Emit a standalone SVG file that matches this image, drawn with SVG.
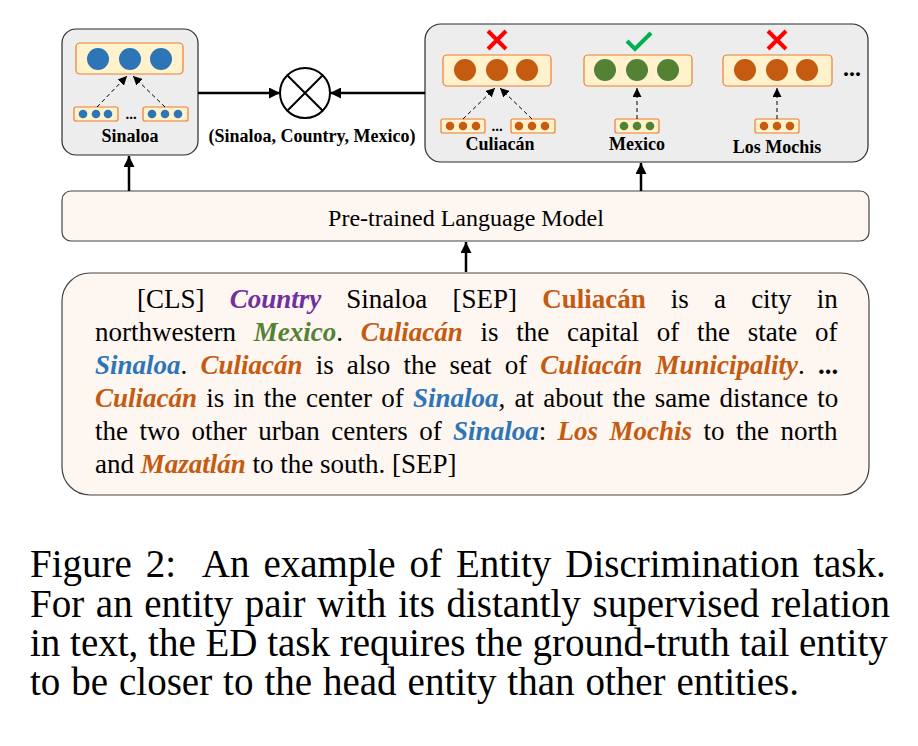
<svg xmlns="http://www.w3.org/2000/svg" width="918" height="746" viewBox="0 0 918 746">
<style>
.t{font-family:"Liberation Serif","Times New Roman",serif;font-size:27px;fill:#000}
.c{font-family:"Liberation Serif","Times New Roman",serif;font-size:39px;fill:#000}
.lbl{font-family:"Liberation Serif","Times New Roman",serif;font-size:18px;font-weight:bold;fill:#000;text-anchor:middle}
.bi{font-weight:bold;font-style:italic}
.b{font-weight:bold}
.org{fill:#C55A11}.blu{fill:#2E75B6}.grn{fill:#548235}.pur{fill:#7030A0}
.panel{fill:#EDEDED;stroke:#2b2b2b;stroke-width:1.2}
.soft{fill:#FDF6F1;stroke:#444;stroke-width:1.2}
.bar{fill:#FFF2CC;stroke:#ED7D31;stroke-width:1.2}
.solid{stroke:#000;stroke-width:2.5;fill:none;marker-end:url(#ah)}
.dash{stroke:#000;stroke-width:1;stroke-dasharray:4 3;fill:none;marker-end:url(#ahs)}
</style>
<defs>
<marker id="ah" viewBox="0 0 10 10" refX="10" refY="5" markerWidth="11" markerHeight="11" markerUnits="userSpaceOnUse" orient="auto"><path d="M0,0 L10,5 L0,10 z" fill="#000"/></marker>
<marker id="ahs" viewBox="0 0 10 10" refX="10" refY="5" markerWidth="9" markerHeight="9" markerUnits="userSpaceOnUse" orient="auto"><path d="M0,0 L10,5 L0,10 z" fill="#000"/></marker>
</defs>
<rect width="918" height="746" fill="#fff"/>

<g id="head-panel">
<rect class="panel" x="62" y="29" width="136" height="126" rx="14"/>
<rect class="bar" x="76" y="43" width="107" height="31" rx="4"/>
<g fill="#2E75B6"><circle cx="98" cy="59" r="11"/><circle cx="130" cy="59" r="11"/><circle cx="161" cy="59" r="11"/></g>
<rect class="bar" x="74" y="107" width="44" height="14" rx="2"/>
<rect class="bar" x="143" y="107" width="45" height="14" rx="2"/>
<g fill="#2E75B6"><circle cx="83" cy="114" r="4.3"/><circle cx="96" cy="114" r="4.3"/><circle cx="108" cy="114" r="4.3"/><circle cx="152" cy="114" r="4.3"/><circle cx="165" cy="114" r="4.3"/><circle cx="178" cy="114" r="4.3"/></g>
<text class="lbl" x="131" y="119" style="font-size:15px">...</text>
<path class="dash" d="M97,107 L127,76"/>
<path class="dash" d="M165,107 L133,76"/>
<text class="lbl" x="130" y="142">Sinaloa</text>
</g>

<g id="tail-panel">
<rect class="panel" x="425" y="24" width="443" height="138" rx="16"/>
<rect class="bar" x="443" y="55" width="108" height="31" rx="4"/>
<g fill="#C55A11"><circle cx="465" cy="70" r="11"/><circle cx="497" cy="70" r="11"/><circle cx="527" cy="70" r="11"/></g>
<rect class="bar" x="584" y="55" width="108" height="31" rx="4"/>
<g fill="#548235"><circle cx="605" cy="70" r="11"/><circle cx="637" cy="70" r="11"/><circle cx="668" cy="70" r="11"/></g>
<rect class="bar" x="723" y="55" width="109" height="31" rx="4"/>
<g fill="#C55A11"><circle cx="745" cy="70" r="11"/><circle cx="777" cy="70" r="11"/><circle cx="807" cy="70" r="11"/></g>
<text class="lbl" x="852" y="76" style="font-size:24px">...</text>
<rect class="bar" x="441" y="119" width="44" height="14" rx="2"/>
<rect class="bar" x="511" y="119" width="44" height="14" rx="2"/>
<rect class="bar" x="615" y="119" width="44" height="14" rx="2"/>
<rect class="bar" x="755" y="119" width="44" height="14" rx="2"/>
<g fill="#C55A11"><circle cx="450" cy="126" r="4.3"/><circle cx="463" cy="126" r="4.3"/><circle cx="476" cy="126" r="4.3"/><circle cx="519" cy="126" r="4.3"/><circle cx="532" cy="126" r="4.3"/><circle cx="545" cy="126" r="4.3"/><circle cx="764" cy="126" r="4.3"/><circle cx="777" cy="126" r="4.3"/><circle cx="790" cy="126" r="4.3"/></g>
<g fill="#548235"><circle cx="624" cy="126" r="4.3"/><circle cx="637" cy="126" r="4.3"/><circle cx="650" cy="126" r="4.3"/></g>
<text class="lbl" x="497" y="131" style="font-size:15px">...</text>
<path class="dash" d="M463,119 L495,88"/>
<path class="dash" d="M532,119 L500,88"/>
<path class="dash" d="M637,119 L637,88"/>
<path class="dash" d="M777,119 L777,88"/>
<g stroke="#FF0000" stroke-width="4" fill="none"><path d="M488,31 L506,49 M506,31 L488,49"/><path d="M768,31 L786,49 M786,31 L768,49"/></g>
<path d="M627,41 L635,49 L651,33" stroke="#00B050" stroke-width="4" fill="none"/>
<text class="lbl" x="500" y="150">Culiacán</text>
<text class="lbl" x="637" y="150">Mexico</text>
<text class="lbl" x="777" y="153">Los Mochis</text>
</g>

<g id="score">
<circle cx="305" cy="93" r="25" fill="#fff" stroke="#000" stroke-width="2"/>
<path d="M287.3,75.3 L322.7,110.7 M322.7,75.3 L287.3,110.7" stroke="#000" stroke-width="2"/>
<text class="lbl" x="312" y="142">(Sinaloa, Country, Mexico)</text>
</g>

<g id="plm">
<rect class="soft" x="62" y="191" width="807" height="50" rx="9"/>
<text class="t" x="466" y="226" style="font-size:24px;text-anchor:middle">Pre-trained Language Model</text>
</g>

<g id="input-text">
<rect class="soft" x="62" y="273" width="807" height="222" rx="28"/>
<text class="t" x="137" y="308" style="word-spacing:18.4px">[CLS] <tspan class="bi pur">Country</tspan> Sinaloa [SEP] <tspan class="b org">Culiacán</tspan> is a city in</text>
<text class="t" x="95" y="341" style="word-spacing:11px">northwestern <tspan class="bi grn">Mexico</tspan>. <tspan class="bi org">Culiacán</tspan> is the capital of the state of</text>
<text class="t" x="95" y="374" style="word-spacing:6.4px"><tspan class="bi blu">Sinaloa</tspan>. <tspan class="bi org">Culiacán</tspan> is also the seat of <tspan class="bi org">Culiacán Municipality</tspan>. <tspan class="b">...</tspan></text>
<text class="t" x="95" y="407" style="word-spacing:2.5px"><tspan class="bi org">Culiacán</tspan> is in the center of <tspan class="bi blu">Sinaloa</tspan>, at about the same distance to</text>
<text class="t" x="95" y="440" style="word-spacing:4.7px">the two other urban centers of <tspan class="bi blu">Sinaloa</tspan>: <tspan class="bi org">Los Mochis</tspan> to the north</text>
<text class="t" x="95" y="473">and <tspan class="bi org">Mazatlán</tspan> to the south. [SEP]</text>
</g>

<g id="connectors">
<path class="solid" d="M198,93 L280,93"/>
<path class="solid" d="M425,93 L330,93"/>
<path class="solid" d="M129,191 L129,156"/>
<path class="solid" d="M641,191 L641,163"/>
<path class="solid" d="M466,272 L466,242"/>
</g>

<g id="caption">
<text class="c" x="30" y="577" style="word-spacing:4.2px" xml:space="preserve">Figure 2:  An example of Entity Discrimination task.</text>
<text class="c" x="30" y="617" style="word-spacing:1.9px">For an entity pair with its distantly supervised relation</text>
<text class="c" x="30" y="656">in text, the ED task requires the ground-truth tail entity</text>
<text class="c" x="30" y="695" style="word-spacing:1.2px">to be closer to the head entity than other entities.</text>
</g>
</svg>
